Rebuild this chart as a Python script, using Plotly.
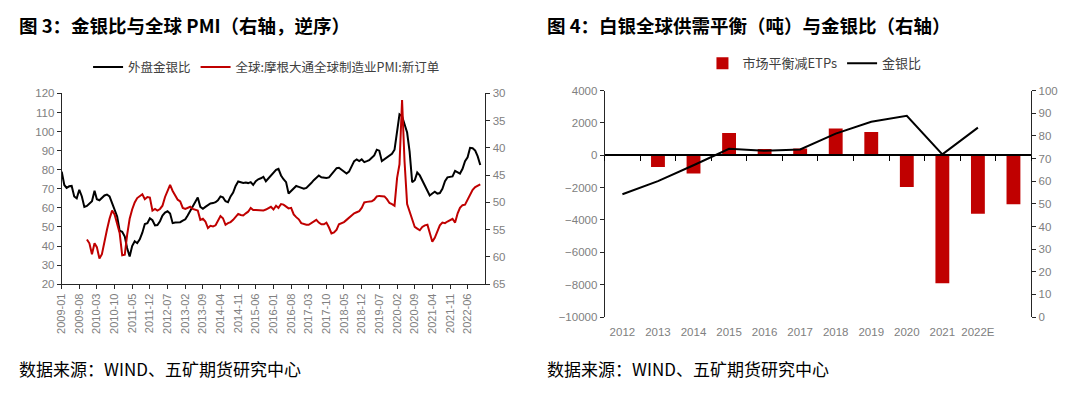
import pandas as pd
import plotly.graph_objects as go

# ---------------- Left chart data (monthly, 2009-01 .. 2022-11) ----------------
months = pd.date_range("2009-01-01", periods=167, freq="MS")
gold_silver_ratio = [
    79.0, 72.0, 70.5, 71.3, 71.5, 66.0, 65.0, 69.5, 66.0, 60.5,   # 2009-01..10
    61.0, 62.5, 63.5, 69.0, 64.5, 64.0, 65.5, 66.5, 67.0, 66.0,
    62.5, 59.0, 55.5, 48.0, 47.5, 45.0, 39.0, 34.5, 40.0, 42.5,
    41.5, 43.5, 47.0, 51.5, 52.0, 54.5, 53.5, 50.8, 51.0, 53.0,
    56.0, 57.5, 58.2, 57.0, 52.0, 52.3, 52.5, 52.5, 53.3, 54.0,
    56.0, 58.5, 61.0, 63.5, 65.4, 60.5, 59.5, 60.5, 61.5, 62.3,
    62.5, 63.0, 64.0, 66.0, 65.5, 63.5, 63.0, 66.0, 68.0, 71.5,
    73.8, 73.2, 73.0, 73.3, 73.0, 73.5, 72.0, 74.0, 75.0, 75.5,
    76.3, 74.0, 75.5, 76.5, 78.5, 80.0, 80.5, 77.0, 75.0, 73.5,
    67.5, 69.0, 70.0, 71.5, 71.0, 70.5, 70.0, 70.5, 71.5, 73.0,
    74.5, 76.0, 77.0, 76.0, 75.8, 75.7, 76.0, 77.5, 79.0, 80.8,
    81.0, 80.0, 79.4, 78.0, 79.0, 81.5, 84.5, 85.4, 84.5, 85.4,
    84.0, 84.5, 85.0, 86.3, 87.5, 90.5, 90.0, 84.5, 85.4, 86.5,
    87.5, 88.3, 90.5, 101.0, 109.0, 108.0, 104.0, 99.5, 89.5, 73.5,
    74.5, 78.5, 77.0, 74.5, 72.0, 69.0, 66.5, 67.5, 68.5, 67.5,
    67.8, 70.0, 74.0, 76.0, 76.2, 76.5, 79.4, 78.6, 78.0, 80.5,
    84.5, 86.5, 91.5, 91.3, 90.0, 87.0, 82.5,
]
pmi_new_orders = [None] * 10 + [
    56.8, 57.5, 59.5, 57.5, 58.2, 60.3, 59.5, 57.0, 55.0, 53.0,   # 2009-11..
    51.5, 52.2, 53.8, 55.6, 59.7, 59.6, 56.0, 53.0, 51.3, 50.0,
    49.2, 48.8, 48.5, 49.4, 49.0, 49.1, 51.5, 51.2, 51.5, 51.2,
    50.6, 49.0, 47.9, 46.8, 47.9, 48.8, 49.5, 49.8, 51.0, 51.2,
    51.0, 50.8, 51.2, 51.3, 51.5, 53.2, 53.0, 53.5, 54.7, 54.3,
    54.4, 54.2, 53.5, 52.5, 52.9, 54.1, 53.8, 53.6, 53.2, 52.7,
    52.1, 52.3, 52.4, 52.0, 51.7, 51.0, 51.4, 51.4, 51.4, 51.4,
    51.5, 51.3, 51.0, 50.8, 51.3, 50.6, 51.0, 50.3, 50.4, 50.8,
    51.1, 51.0, 52.2, 52.7, 53.1, 53.8, 54.0, 54.1, 54.1, 53.8,
    53.4, 53.2, 53.7, 54.0, 54.0, 53.7, 54.6, 55.7, 55.5, 55.0,
    54.0, 53.8, 53.6, 53.2, 52.8, 52.3, 52.0, 51.8, 51.6, 51.0,
    50.0, 49.9, 49.8, 49.8, 49.5, 48.9, 48.8, 48.8, 48.9, 49.4,
    50.1, 50.3, 50.6, 45.5, 43.0, 31.2, 42.5, 50.3, 51.7, 53.0,
    54.5, 54.8, 55.1, 54.5, 54.2, 54.1, 55.8, 57.2, 56.5, 55.4,
    54.2, 53.7, 53.8, 53.5, 53.3, 53.0, 53.7, 52.0, 51.0, 50.5,
    50.4, 49.4, 48.4, 47.7, 47.2, 46.9, 46.7,
]
left_tick_dates = list(months[::7][:24])
left_tick_text = [d.strftime("%Y-%m") for d in left_tick_dates]

# ---------------- Right chart data ----------------
years = ["2012", "2013", "2014", "2015", "2016", "2017", "2018", "2019",
         "2020", "2021", "2022E", "2023F"]
balance_minus_etps = [None, -720, -1130, 1370, 380, 420, 1650, 1440,
                      -1960, -7900, -3620, -3030]
gs_ratio_annual = [54.2, 60.0, 67.0, 74.3, 73.4, 74.0, 81.0, 86.2,
                   88.8, 71.8, 83.6, None]

# ---------------- Layout geometry ----------------
PAGE_W, PAGE_H = 1080, 396
OFF = 8                      # default body margin of the html page
W, H = PAGE_W - 2 * OFF, PAGE_H - 2 * OFF
def fx(px):
    return (px - OFF) / W
def fy(py):
    return 1 - (py - OFF) / H

TICK_FONT = dict(family="Liberation Sans, Arial", size=11.5, color="#808080")
CJK = "Noto Sans CJK SC"
AX = "#262626"
RED = "#C00000"

fig = go.Figure()

fig.add_trace(go.Scatter(x=months, y=gold_silver_ratio, name="外盘金银比",
                         mode="lines", line=dict(color="#000000", width=2),
                         xaxis="x", yaxis="y", legend="legend"))
fig.add_trace(go.Scatter(x=months, y=pmi_new_orders,
                         name="全球:摩根大通全球制造业PMI:新订单",
                         mode="lines", line=dict(color=RED, width=2),
                         xaxis="x", yaxis="y2", legend="legend"))
fig.add_trace(go.Bar(x=years, y=balance_minus_etps, name="市场平衡减ETPs",
                     marker=dict(color=RED, line=dict(width=0)), width=0.39,
                     xaxis="x2", yaxis="y3", legend="legend2"))
fig.add_trace(go.Scatter(x=years, y=gs_ratio_annual, name="金银比", mode="lines",
                         line=dict(color="#000000", width=2),
                         xaxis="x2", yaxis="y4", legend="legend2"))
# invisible helper trace so the zero-crossing category axis (with ticks) is drawn
fig.add_trace(go.Scatter(x=years, y=[0 for _ in years], mode="lines",
                         line=dict(width=0), opacity=0, hoverinfo="skip",
                         showlegend=False, xaxis="x3", yaxis="y3"))

L_X = [fx(56), fx(482)]
L_Y = [fy(287), fy(90)]
R_X = [fx(602), fx(1031)]
R_Y = [fy(321), fy(87)]
y3_range = [-10000, 4000]
zero_pos = R_Y[0] + (0 - y3_range[0]) / (y3_range[1] - y3_range[0]) * (R_Y[1] - R_Y[0])

axis_common = dict(showgrid=False, zeroline=False, showline=True, linecolor=AX,
                   linewidth=1, ticks="outside", ticklen=4, tickcolor=AX,
                   tickfont=TICK_FONT)

fig.update_layout(
    width=W, height=H,
    margin=dict(l=0, r=0, t=0, b=0),
    paper_bgcolor="white", plot_bgcolor="rgba(0,0,0,0)",
    showlegend=True,
    xaxis=dict(domain=L_X, anchor="y", type="date",
               range=["2009-01-01", "2023-01-01"],
               tickvals=left_tick_dates, ticktext=left_tick_text,
               tickangle=-90, **{**axis_common,
                                 "tickfont": dict(family="Liberation Sans, Arial",
                                                  size=11, color="#808080")}),
    yaxis=dict(domain=L_Y, anchor="x", range=[20, 120], dtick=10, **axis_common),
    yaxis2=dict(domain=L_Y, anchor="x", overlaying="y", side="right",
                range=[65, 30], dtick=5, **axis_common),
    xaxis2=dict(domain=R_X, anchor="y3", type="category", range=[-0.5, 11.5],
                showgrid=False, zeroline=False, showline=False, ticks="",
                ticklabelstandoff=6,
                tickvals=years[:11], ticktext=years[:11], tickfont=TICK_FONT),
    xaxis3=dict(domain=R_X, anchor="free", position=zero_pos, overlaying="x2",
                type="category", range=[-0.5, 11.5], showgrid=False,
                zeroline=False, showline=True, linecolor="#000000", linewidth=1.5,
                ticks="outside", tickson="boundaries", ticklen=5,
                tickcolor="#000000", showticklabels=False),
    yaxis3=dict(domain=R_Y, anchor="x2", range=y3_range, dtick=2000,
                tickformat="d", **axis_common),
    yaxis4=dict(domain=R_Y, anchor="x2", overlaying="y3", side="right",
                range=[0, 100], dtick=10, **axis_common),
    legend=dict(orientation="h", x=fx(262), xanchor="center", y=fy(63),
                yanchor="middle", font=dict(family=CJK, size=12.5, color="#404040"),
                itemwidth=30, bgcolor="rgba(0,0,0,0)", tracegroupgap=0),
    legend2=dict(orientation="h", x=fx(813), xanchor="center", y=fy(59),
                 yanchor="middle", font=dict(family=CJK, size=13, color="#404040"),
                 itemwidth=30, bgcolor="rgba(0,0,0,0)"),
    annotations=[
        dict(text="<b>图 3：金银比与全球 PMI（右轴，逆序）</b>", x=fx(11), y=fy(19),
             xref="paper", yref="paper", xanchor="left", yanchor="middle",
             showarrow=False, font=dict(family=CJK, size=18.5, color="#000000")),
        dict(text="<b>图 4：白银全球供需平衡（吨）与金银比（右轴）</b>", x=fx(542),
             y=fy(19), xref="paper", yref="paper", xanchor="left",
             yanchor="middle", showarrow=False,
             font=dict(family=CJK, size=18.5, color="#000000")),
        dict(text="数据来源：WIND、五矿期货研究中心", x=fx(11), y=fy(374),
             xref="paper", yref="paper", xanchor="left", yanchor="middle",
             showarrow=False, font=dict(family=CJK, size=17, color="#000000")),
        dict(text="数据来源：WIND、五矿期货研究中心", x=fx(542), y=fy(374),
             xref="paper", yref="paper", xanchor="left", yanchor="middle",
             showarrow=False, font=dict(family=CJK, size=17, color="#000000")),
    ],
)

fig.write_html("out.html")
